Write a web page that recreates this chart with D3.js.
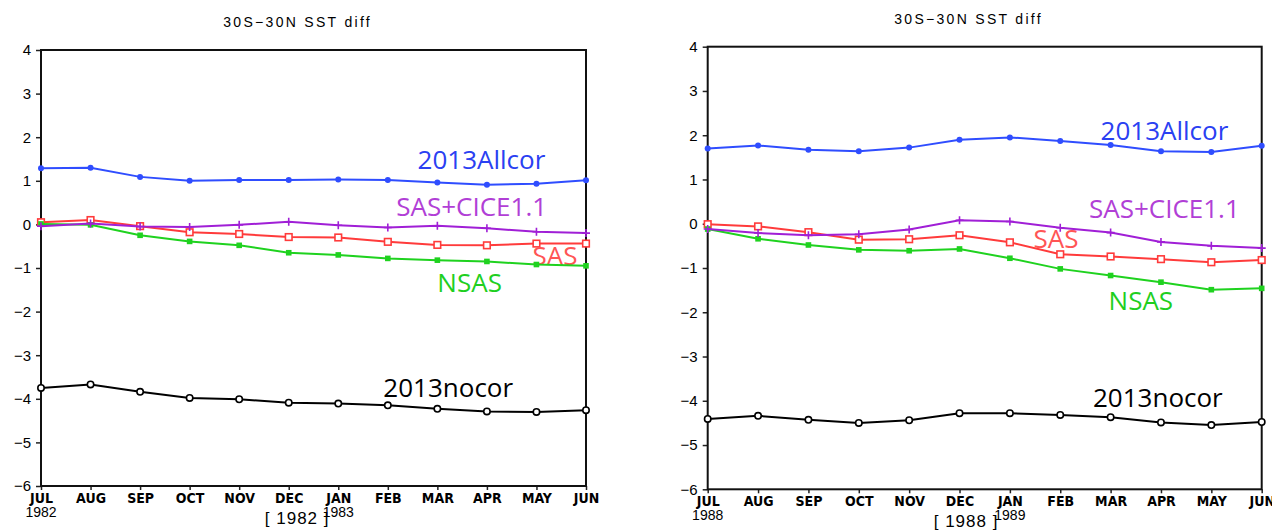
<!DOCTYPE html>
<html>
<head>
<meta charset="utf-8">
<title>30S-30N SST diff</title>
<style>
  body { margin: 0; background: #fff; }
  .tick text { fill: #000; }
  .ylab text { font-family: "Liberation Sans", Arial, sans-serif; font-size: 15px; }
  .xlab text { font-family: "Liberation Sans Narrow", "DejaVu Sans Condensed", sans-serif; font-size: 14px; font-weight: bold; }
  .title { font-family: "Liberation Sans", Arial, sans-serif; font-size: 14px; letter-spacing: 2.3px; }
  .yr { font-family: "Liberation Sans", Arial, sans-serif; font-size: 14px; }
  .bracket { font-family: "Liberation Sans", Arial, sans-serif; font-size: 17px; letter-spacing: 1px; }
  .lbl { font-family: "Open Sans", sans-serif; font-size: 26px; }
</style>
</head>
<body>
<script src="https://cdn.jsdelivr.net/npm/d3@7"></script>
<script>
// month axis and value axis
var months = ["JUL","AUG","SEP","OCT","NOV","DEC","JAN","FEB","MAR","APR","MAY","JUN"];
var yTicks = [-6,-5,-4,-3,-2,-1,0,1,2,3,4];

// 1982/83 run
var allcor82 = [1.29,1.30,1.09,1.00,1.02,1.02,1.03,1.02,0.96,0.91,0.93,1.01];
var sas82    = [0.05,0.10,-0.04,-0.18,-0.22,-0.29,-0.30,-0.40,-0.47,-0.48,-0.44,-0.44];
var cice82   = [-0.04,0.02,-0.05,-0.06,-0.01,0.06,-0.02,-0.07,-0.03,-0.09,-0.17,-0.20];
var nsas82   = [0.01,-0.01,-0.25,-0.39,-0.48,-0.65,-0.70,-0.78,-0.82,-0.85,-0.92,-0.95];
var nocor82  = [-3.75,-3.67,-3.84,-3.98,-4.01,-4.09,-4.11,-4.15,-4.23,-4.29,-4.30,-4.26];

// 1988/89 run
var allcor88 = [1.70,1.77,1.67,1.64,1.72,1.90,1.95,1.87,1.78,1.64,1.62,1.76];
var sas88    = [-0.01,-0.06,-0.19,-0.36,-0.35,-0.26,-0.42,-0.69,-0.74,-0.80,-0.87,-0.82];
var cice88   = [-0.12,-0.21,-0.26,-0.24,-0.13,0.08,0.05,-0.09,-0.20,-0.41,-0.50,-0.55];
var nsas88   = [-0.12,-0.34,-0.48,-0.59,-0.61,-0.57,-0.78,-1.02,-1.17,-1.32,-1.49,-1.46];
var nocor88  = [-4.41,-4.34,-4.43,-4.50,-4.44,-4.28,-4.28,-4.32,-4.37,-4.49,-4.55,-4.48];

var seriesNames = ["SAS","NSAS","SAS+CICE1.1","2013Allcor","2013nocor"];

var style = {
  "SAS":         {line: "#ff3b3b", text: "#ff5555", marker: "square"},
  "NSAS":        {line: "#1fd21f", text: "#1fcf1f", marker: "fsquare"},
  "SAS+CICE1.1": {line: "#a01fd6", text: "#b13fd6", marker: "plus"},
  "2013Allcor":  {line: "#2f4dff", text: "#2a40f2", marker: "dot"},
  "2013nocor":   {line: "#000000", text: "#000000", marker: "circle"}
};

var panels = [
  {x0: 41, x1: 586, top: 50, bottom: 486, years: ["1982","1983"], bracket: "[ 1982 ]", bx: 5.17,
   values: [sas82, nsas82, cice82, allcor82, nocor82],
   labels: [[9.92,-0.93],[8.0,-1.54],[7.17,0.19],[7.6,1.27],[6.91,-3.96]]},
  {x0: 707.7, x1: 1261.7, top: 46.7, bottom: 489.3, years: ["1988","1989"], bracket: "[ 1988 ]", bx: 5.13,
   values: [sas88, nsas88, cice88, allcor88, nocor88],
   labels: [[6.47,-0.55],[7.96,-1.95],[7.57,0.14],[7.8,1.89],[7.65,-4.14]]}
];

var svg = d3.select("body").append("svg").attr("width", 1272).attr("height", 531);

panels.forEach(function(p) {
  var x = d3.scaleLinear().domain([0, 11]).range([p.x0, p.x1]);
  var y = d3.scaleLinear().domain([-6, 4]).range([p.bottom, p.top]);
  var g = svg.append("g");

  // title
  g.append("text").attr("class", "title").attr("x", x(5.18)).attr("y", p.top - 23)
    .attr("text-anchor", "middle").text("30S\u221230N SST diff");

  // y axis
  var ya = g.append("g").attr("class", "ylab").attr("transform", "translate(" + p.x0 + ",0)")
    .call(d3.axisLeft(y).tickValues(yTicks).tickSize(5).tickSizeOuter(0).tickPadding(5)
      .tickFormat(function(d) { return d < 0 ? "\u2212" + Math.abs(d) : d; }));
  ya.select(".domain").remove();
  ya.selectAll("line").attr("stroke", "#222").attr("stroke-width", 1.5);

  // x axis
  var xa = g.append("g").attr("class", "xlab").attr("transform", "translate(0," + p.bottom + ")")
    .call(d3.axisBottom(x).tickValues(d3.range(12)).tickSize(4).tickSizeOuter(0).tickPadding(3)
      .tickFormat(function(d) { return months[d]; }));
  xa.select(".domain").remove();
  xa.selectAll("line").attr("stroke", "#222").attr("stroke-width", 1.5);

  // year labels under JUL and JAN
  g.append("text").attr("class", "yr").attr("x", x(0)).attr("y", p.bottom + 31)
    .attr("text-anchor", "middle").text(p.years[0]);
  g.append("text").attr("class", "yr").attr("x", x(6)).attr("y", p.bottom + 31)
    .attr("text-anchor", "middle").text(p.years[1]);
  g.append("text").attr("class", "bracket").attr("x", x(p.bx)).attr("y", p.bottom + 38)
    .attr("text-anchor", "middle").text(p.bracket);

  // frame
  g.append("rect").attr("x", p.x0).attr("y", p.top)
    .attr("width", p.x1 - p.x0).attr("height", p.bottom - p.top)
    .attr("fill", "none").attr("stroke", "#111").attr("stroke-width", 2);

  var line = d3.line().x(function(d, i) { return x(i); }).y(function(d) { return y(d); });

  seriesNames.forEach(function(name, k) {
    var s = style[name];
    var vals = p.values[k];
    g.append("path").datum(vals).attr("d", line)
      .attr("fill", "none").attr("stroke", s.line).attr("stroke-width", 2);

    var m = g.append("g").selectAll("g").data(vals).join("g")
      .attr("transform", function(d, i) { return "translate(" + x(i) + "," + y(d) + ")"; });
    if (s.marker == "dot") {
      m.append("circle").attr("r", 3).attr("fill", s.line);
    } else if (s.marker == "circle") {
      m.append("circle").attr("r", 3.2).attr("fill", "#fff").attr("stroke", s.line).attr("stroke-width", 1.6);
    } else if (s.marker == "square") {
      m.append("rect").attr("x", -3.3).attr("y", -3.3).attr("width", 6.6).attr("height", 6.6)
        .attr("fill", "#fff").attr("stroke", s.line).attr("stroke-width", 1.6);
    } else if (s.marker == "fsquare") {
      m.append("rect").attr("x", -2.8).attr("y", -2.8).attr("width", 5.6).attr("height", 5.6)
        .attr("fill", s.line);
    } else {
      m.append("path").attr("d", "M-4,0H4M0,-4V4").attr("stroke", s.line).attr("stroke-width", 1.6);
    }

    g.append("text").attr("class", "lbl")
      .attr("x", x(p.labels[k][0])).attr("y", y(p.labels[k][1]))
      .attr("fill", s.text).text(name);
  });
});
</script>
</body>
</html>
